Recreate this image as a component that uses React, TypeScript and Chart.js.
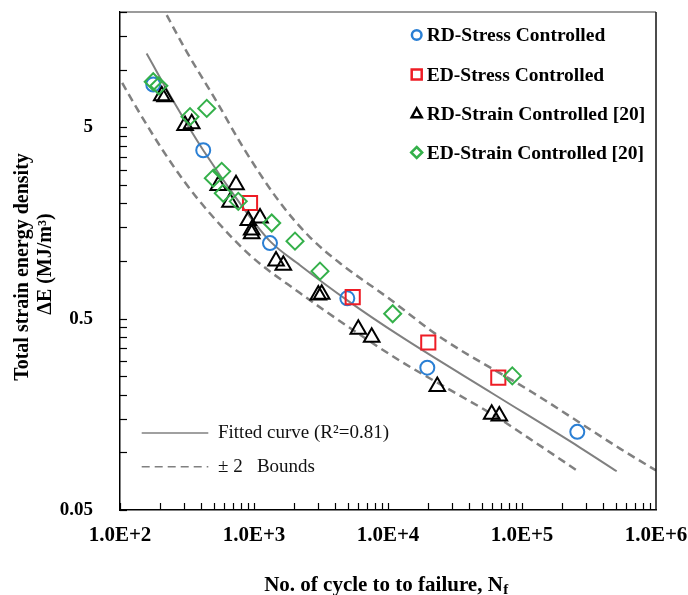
import React, { useEffect, useRef } from 'react';
import { Chart, registerables } from 'chart.js';

Chart.register(...registerables);

// ---- Data ----
const xTickValues = [1e2, 1e3, 1e4, 1e5, 1e6];
const xTickLabels = ['1.0E+2', '1.0E+3', '1.0E+4', '1.0E+5', '1.0E+6'];
const yTickValues = [0.05, 0.5, 5];
const yTickLabels = ['0.05', '0.5', '5'];

const rdStressN = [177, 418, 1316, 4970, 19650, 258600];
const rdStressE = [8.36, 3.79, 1.24, 0.638, 0.277, 0.128];

const edStressN = [934, 5453, 19980, 66550];
const edStressE = [2.01, 0.648, 0.375, 0.246];

const rdStrainN = [205, 217, 306, 343, 541, 734, 662, 907, 1109, 961, 961, 1460, 1655, 3020, 3200, 6003, 7556, 23330, 59400, 67700];
const rdStrainE = [7.31, 7.22, 5.1, 5.21, 2.48, 2.5, 2.03, 1.63, 1.68, 1.45, 1.39, 1.0, 0.951, 0.664, 0.671, 0.44, 0.4, 0.221, 0.158, 0.155];

const edStrainN = [177, 195, 333, 444, 497, 574, 590, 763, 1356, 2023, 3108, 10840, 84640];
const edStrainE = [8.64, 8.23, 5.68, 6.27, 2.71, 2.94, 2.26, 2.05, 1.58, 1.27, 0.885, 0.53, 0.251];

const fittedN = [158, 257, 418, 786, 1316, 2204, 4943, 12290, 60760, 270900, 509000];
const fittedE = [12.13, 6.63, 3.79, 2.0, 1.27, 0.951, 0.625, 0.406, 0.2025, 0.106, 0.0797];

const upperN = [181, 217, 315, 527, 832, 1563, 2617, 4384, 9830, 24440, 120800, 538500, 1000000];
const upperE = [25.4, 20.0, 12.38, 6.8, 3.91, 2.02, 1.33, 0.974, 0.648, 0.401, 0.205, 0.1047, 0.0804];

const lowerN = [84.2, 100, 141, 209, 306, 470, 934, 2204, 5480, 12290, 29010, 62880, 136200, 257300];
const lowerE = [11.25, 8.95, 5.89, 3.78, 2.57, 1.77, 1.072, 0.68, 0.436, 0.301, 0.212, 0.155, 0.1085, 0.0804];

const seriesLabels = [
  'RD-Stress Controlled',
  'ED-Stress Controlled',
  'RD-Strain Controlled [20]',
  'ED-Strain Controlled [20]',
];
const fitLabel = 'Fitted curve (R\u00B2=0.81)';
const boundsLabel = '\u00B1 2   Bounds';
const xTitle = 'No. of cycle to to failure, N';
const xTitleSub = 'f';
const yTitle1 = 'Total strain energy density';
const yTitle2 = '\u0394E (MJ/m\u00B3)';

const SERIF = "'Liberation Serif', 'Times New Roman', serif";
const BLUE = '#2a7fd4';
const RED = '#ee1c25';
const BLACK = '#000000';
const GREEN = '#34b04a';
const GRAY = '#808080';

const toPts = (n: number[], e: number[]) => n.map((v, i) => ({ x: v, y: e[i] }));

function drawMarker(ctx: CanvasRenderingContext2D, style: string, x: number, y: number, r: number) {
  ctx.beginPath();
  if (style === 'circle') {
    ctx.arc(x, y, r, 0, Math.PI * 2);
  } else if (style === 'rect') {
    ctx.rect(x - r, y - r, 2 * r, 2 * r);
  } else if (style === 'triangle') {
    ctx.moveTo(x, y - r * 1.05);
    ctx.lineTo(x + r, y + r * 0.75);
    ctx.lineTo(x - r, y + r * 0.75);
    ctx.closePath();
  } else {
    ctx.moveTo(x, y - r * 1.1);
    ctx.lineTo(x + r * 1.1, y);
    ctx.lineTo(x, y + r * 1.1);
    ctx.lineTo(x - r * 1.1, y);
    ctx.closePath();
  }
  ctx.stroke();
}

const noPad = (s: any) => {
  s.paddingLeft = 0;
  s.paddingRight = 0;
  s.paddingTop = 0;
  s.paddingBottom = 0;
};

const decor = {
  id: 'decor',
  afterDraw(chart: any) {
    const { ctx, chartArea: a, scales } = chart;
    const xs = scales.x;
    const ys = scales.y;
    const seg = (x1: number, y1: number, x2: number, y2: number) => {
      ctx.beginPath();
      ctx.moveTo(x1, y1);
      ctx.lineTo(x2, y2);
      ctx.stroke();
    };
    ctx.save();
    // frame top & right
    ctx.lineWidth = 1.5;
    ctx.strokeStyle = '#7a7a7a';
    seg(a.left, a.top, a.right, a.top);
    ctx.strokeStyle = '#111';
    seg(a.right, a.top, a.right, a.bottom);

    // inside tick marks
    ctx.strokeStyle = '#000';
    ctx.lineWidth = 1.2;
    for (let d = 2; d < 6; d++) {
      for (let k = 1; k <= 9; k++) {
        const px = Math.round(xs.getPixelForValue(k * Math.pow(10, d))) + 0.5;
        seg(px, a.bottom, px, a.bottom - 7);
      }
    }
    for (let d = 0; d < 3; d++) {
      for (let k = 1; k <= 9; k++) {
        const v = 0.05 * k * Math.pow(10, d);
        if (v > 20.0001) break;
        const py = Math.round(ys.getPixelForValue(v)) + 0.5;
        seg(a.left, py, a.left + 7, py);
      }
    }

    // legend (top right) from marker datasets
    const mx = 416.7;
    const tx = 426.7;
    const rows = [35, 74.5, 113.5, 152.5];
    ctx.textBaseline = 'middle';
    ctx.textAlign = 'left';
    chart.data.datasets.forEach((ds: any, i: number) => {
      if (i > 3) return;
      const y = rows[i];
      ctx.strokeStyle = ds.borderColor;
      ctx.lineWidth = 2.5;
      const r = ds.pointStyle === 'circle' ? 4.8 : 5;
      drawMarker(ctx, ds.pointStyle, mx, y, r);
      ctx.fillStyle = '#000';
      ctx.font = `bold 19.5px ${SERIF}`;
      ctx.fillText(ds.label, tx, y + 1);
    });

    // legend (bottom left) for lines
    ctx.strokeStyle = GRAY;
    ctx.lineWidth = 1.6;
    seg(141.7, 433, 208.3, 433);
    ctx.setLineDash([8, 5]);
    seg(141.7, 466.7, 208.3, 466.7);
    ctx.setLineDash([]);
    ctx.fillStyle = '#111';
    ctx.font = `19px ${SERIF}`;
    ctx.fillText(fitLabel, 218, 433);
    ctx.fillText(boundsLabel, 218, 466.7);

    // x title with subscript
    ctx.font = `bold 21px ${SERIF}`;
    ctx.textBaseline = 'alphabetic';
    const w1 = ctx.measureText(xTitle).width;
    ctx.font = `bold 15px ${SERIF}`;
    const w2 = ctx.measureText(xTitleSub).width;
    const sx = 386 - (w1 + w2) / 2;
    ctx.fillStyle = '#000';
    ctx.font = `bold 21px ${SERIF}`;
    ctx.fillText(xTitle, sx, 591);
    ctx.font = `bold 15px ${SERIF}`;
    ctx.fillText(xTitleSub, sx + w1 + 0.5, 594);

    // y title, two rotated lines
    ctx.font = `bold 20px ${SERIF}`;
    ctx.textAlign = 'center';
    ctx.textBaseline = 'middle';
    ctx.save();
    ctx.translate(23, 267);
    ctx.rotate(-Math.PI / 2);
    ctx.fillText(yTitle1, 0, 0);
    ctx.restore();
    ctx.save();
    ctx.translate(46, 264);
    ctx.rotate(-Math.PI / 2);
    ctx.fillText(yTitle2, 0, 0);
    ctx.restore();

    ctx.restore();
  },
};

export default function App() {
  const ref = useRef<HTMLCanvasElement>(null);
  useEffect(() => {
    const lineBase = {
      showLine: true,
      pointRadius: 0,
      pointHoverRadius: 0,
      fill: false,
      tension: 0.4,
      cubicInterpolationMode: 'monotone',
      borderColor: GRAY,
      backgroundColor: GRAY,
    };
    const markerBase = {
      showLine: false,
      backgroundColor: 'rgba(0,0,0,0)',
      pointBorderWidth: 2,
      borderWidth: 2,
    };
    const chart = new Chart(ref.current as HTMLCanvasElement, {
      type: 'scatter',
      data: {
        datasets: [
          { ...markerBase, label: seriesLabels[0], data: toPts(rdStressN, rdStressE), pointStyle: 'circle', pointRadius: 7, borderColor: BLUE, pointBorderColor: BLUE, order: 4 },
          { ...markerBase, label: seriesLabels[1], data: toPts(edStressN, edStressE), pointStyle: 'rect', pointRadius: 10, borderColor: RED, pointBorderColor: RED, order: 3 },
          { ...markerBase, label: seriesLabels[2], data: toPts(rdStrainN, rdStrainE), pointStyle: 'triangle', pointRadius: 9, borderColor: BLACK, pointBorderColor: BLACK, order: 2 },
          { ...markerBase, label: seriesLabels[3], data: toPts(edStrainN, edStrainE), pointStyle: 'rectRot', pointRadius: 8.5, borderColor: GREEN, pointBorderColor: GREEN, order: 1 },
          { ...lineBase, label: fitLabel, data: toPts(fittedN, fittedE), borderWidth: 2, order: 7 },
          { ...lineBase, label: boundsLabel, data: toPts(upperN, upperE), borderWidth: 2.5, borderDash: [8, 5], order: 6 },
          { ...lineBase, label: boundsLabel, data: toPts(lowerN, lowerE), borderWidth: 2.5, borderDash: [8, 5], order: 5 },
        ] as any,
      },
      options: {
        responsive: false,
        devicePixelRatio: 1,
        animation: false,
        events: [],
        layout: { padding: { top: 10, right: 32, left: 0, bottom: 0 } },
        elements: { line: { capBezierPoints: false } },
        plugins: { legend: { display: false }, tooltip: { enabled: false }, title: { display: false } },
        scales: {
          x: {
            type: 'logarithmic',
            min: 100,
            max: 1e6,
            afterFit: (s: any) => { s.height = 85; noPad(s); },
            afterBuildTicks: (s: any) => { s.ticks = xTickValues.map((v) => ({ value: v })); },
            ticks: {
              autoSkip: false,
              maxRotation: 0,
              padding: 13,
              color: '#000',
              font: { family: SERIF, size: 21, weight: 'bold' },
              callback: (_v: any, i: number) => xTickLabels[i],
            },
            grid: { display: true, drawOnChartArea: false, drawTicks: false },
            border: { display: true, color: '#000', width: 1.5 },
          },
          y: {
            type: 'logarithmic',
            min: 0.05,
            max: 20,
            afterFit: (s: any) => { s.width = 120; noPad(s); },
            afterBuildTicks: (s: any) => { s.ticks = yTickValues.map((v) => ({ value: v })); },
            ticks: {
              autoSkip: false,
              padding: 27,
              color: '#000',
              font: { family: SERIF, size: 19, weight: 'bold' },
              callback: (_v: any, i: number) => yTickLabels[i],
            },
            grid: { display: true, drawOnChartArea: false, drawTicks: false },
            border: { display: true, color: '#000', width: 1.5 },
          },
        },
      } as any,
      plugins: [decor],
    });
    return () => chart.destroy();
  }, []);
  return (
    <div style={{ position: 'absolute', left: 0, top: 0, width: 688, height: 595, background: '#fff' }}>
      <canvas ref={ref} width={688} height={595} style={{ display: 'block', width: 688, height: 595 }} />
    </div>
  );
}
